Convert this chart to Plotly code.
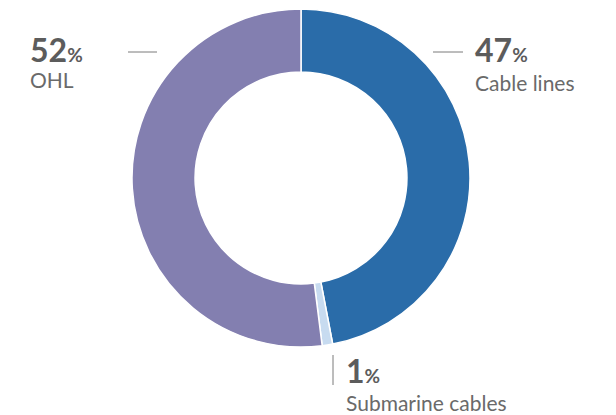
import plotly.graph_objects as go

# Share of network length by line type
categories = ["Cable lines", "Submarine cables", "OHL"]
shares = [47, 1, 52]
colors = ["#2A6CA9", "#C7DBF0", "#837FB0"]

W, H = 616, 415

fig = go.Figure(
    go.Pie(
        labels=categories,
        values=shares,
        sort=False,
        direction="clockwise",
        rotation=0,
        hole=0.627,
        marker=dict(colors=colors, line=dict(color="white", width=1.5)),
        textinfo="none",
        hoverinfo="label+percent",
        domain=dict(x=[132 / W, 470 / W], y=[1 - 347 / H, 1 - 9 / H]),
        showlegend=False,
    )
)

TXT = "#5C5C5C"
LBL = "#6A6A6A"
LINE = "#7A7A7A"


def px(x, y):
    return x / W, 1 - y / H


# left edge, value centre, name centre (pixels)
label_pos = {
    "OHL": (29, 50, 80),
    "Cable lines": (474, 50, 82),
    "Submarine cables": (345, 370.5, 402.5),
}

annotations = []
for cat, val in zip(categories, shares):
    x, y_num, y_lbl = label_pos[cat]
    ax, ay = px(x, y_num)
    annotations.append(dict(
        x=ax, y=ay, xref="paper", yref="paper", xanchor="left", yanchor="middle",
        text=f"<b>{val}</b><b><span style='font-size:19px'>%</span></b>",
        showarrow=False, font=dict(family="Lato", size=32, color=TXT, weight=900),
        borderpad=0,
    ))
    lx, ly = px(x, y_lbl)
    annotations.append(dict(
        x=lx, y=ly, xref="paper", yref="paper", xanchor="left", yanchor="middle",
        text=cat, showarrow=False, font=dict(family="Lato", size=21, color=LBL),
        borderpad=0,
    ))

# Leader lines beside each label
leaders = [
    (128, 52, 157, 52),
    (433, 52, 463, 52),
    (333, 355, 333, 385),
]
shapes = []
for x0, y0, x1, y1 in leaders:
    a0, b0 = px(x0, y0)
    a1, b1 = px(x1, y1)
    shapes.append(dict(type="line", xref="paper", yref="paper",
                       x0=a0, y0=b0, x1=a1, y1=b1,
                       line=dict(color=LINE, width=1)))

fig.update_layout(
    width=W, height=H,
    margin=dict(l=0, r=0, t=0, b=0),
    paper_bgcolor="white", plot_bgcolor="white",
    annotations=annotations, shapes=shapes,
)

fig.write_html("out.html")
